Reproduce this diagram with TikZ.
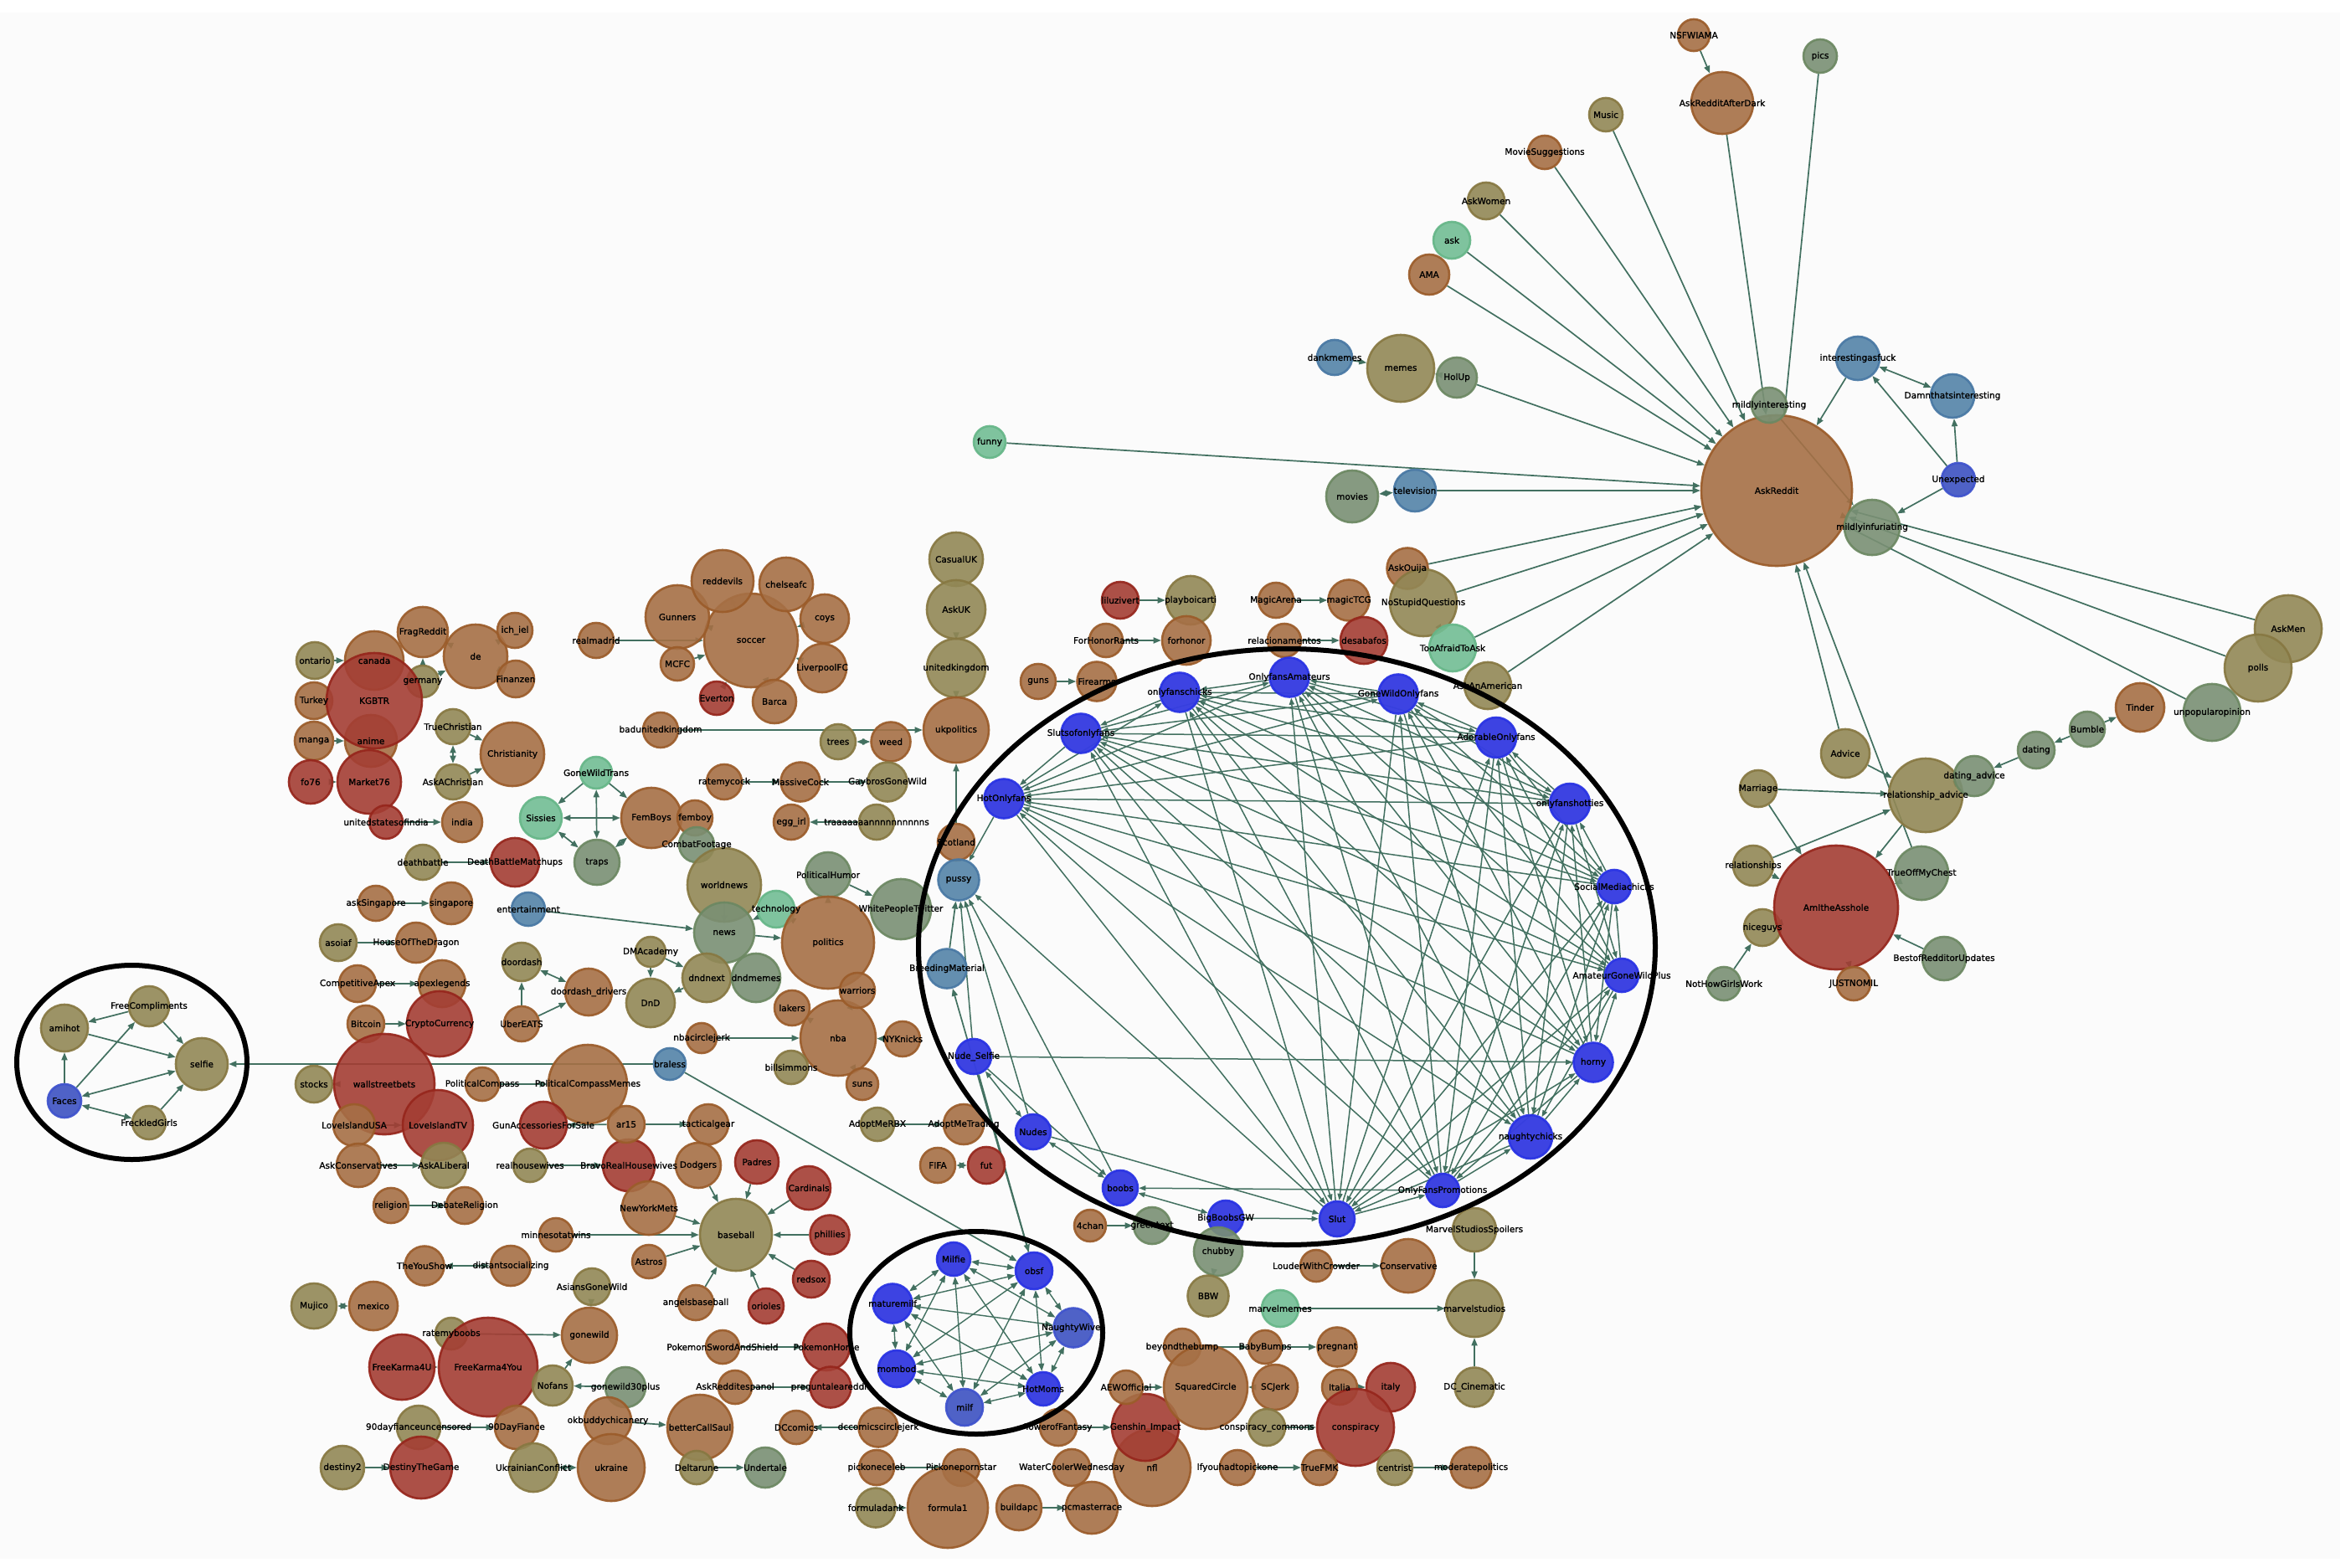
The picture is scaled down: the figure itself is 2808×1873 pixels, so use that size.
\documentclass[tikz,border=0pt]{standalone}
\usepackage{fontspec}
\usepackage{etoolbox}
\newfontfamily\lblfont[FakeBold=1.2]{DejaVu Sans}
\usetikzlibrary{arrows.meta}
\pgfdeclarelayer{bg}\pgfdeclarelayer{fg}\pgfsetlayers{bg,main,fg}
\definecolor{ecol}{RGB}{66,112,96}
\definecolor{bgc}{RGB}{251,251,251}
\definecolor{brF}{RGB}{166,112,70}\definecolor{brD}{RGB}{155,92,42}
\definecolor{olF}{RGB}{146,136,86}\definecolor{olD}{RGB}{135,120,66}
\definecolor{saF}{RGB}{122,144,116}\definecolor{saD}{RGB}{108,136,98}
\definecolor{teF}{RGB}{114,190,148}\definecolor{teD}{RGB}{102,182,136}
\definecolor{stF}{RGB}{84,132,168}\definecolor{stD}{RGB}{72,120,164}
\definecolor{blF}{RGB}{55,62,226}\definecolor{blD}{RGB}{40,50,228}
\definecolor{mbF}{RGB}{74,94,198}\definecolor{mbD}{RGB}{62,82,205}
\definecolor{reF}{RGB}{164,62,52}\definecolor{reD}{RGB}{150,38,28}
\tikzset{
 nd/.style={circle,inner sep=0pt,line width=2.6pt,fill opacity=0.9,draw opacity=0.92},
 cbr/.style={fill=brF,draw=brD},
 col/.style={fill=olF,draw=olD},
 csa/.style={fill=saF,draw=saD},
 cte/.style={fill=teF,draw=teD},
 cst/.style={fill=stF,draw=stD},
 cbl/.style={fill=blF,draw=blD,fill opacity=0.97},
 cmb/.style={fill=mbF,draw=mbD,fill opacity=0.97},
 cre/.style={fill=reF,draw=reD},
 lbl/.style={font=\lblfont\fontsize{10.5}{12}\selectfont,inner sep=0pt,text=black},
 edg/.style={draw=ecol,line width=1.7pt,-{Triangle[length=9pt,width=7pt]}},
 edgb/.style={draw=ecol,line width=1.7pt,{Triangle[length=9pt,width=7pt]}-{Triangle[length=9pt,width=7pt]}},
 edgr/.style={draw=ecol,line width=1.5pt,-{Triangle[length=8pt,width=6pt]}},
 ringline/.style={draw=black,line width=6pt}
}
\newcommand\lbllist{}
\newcommand\mkn[6]{\node[nd,#5,minimum size={#4*2pt}] (#1) at (#2,#3) {};%
\gappto\lbllist{\node[lbl] at (#1.center) {#6};}}
\begin{document}
\begin{tikzpicture}[x=1pt,y=-1pt]
\useasboundingbox (0,0) rectangle (2808,1873);
\begin{pgfonlayer}{bg}
\fill[white] (0,0) rectangle (2808,1873);
\fill[bgc] (0,15) rectangle (2795,1862);
\end{pgfonlayer}
% ---- top right hub
\mkn{nsfwiama}{2023}{42}{19}{cbr}{NSFWIAMA}
\mkn{arad}{2057}{123}{37}{cbr}{AskRedditAfterDark}
\mkn{music}{1918}{137}{20}{col}{Music}
\mkn{moviesug}{1845}{182}{20}{cbr}{MovieSuggestions}
\mkn{askwomen}{1775}{240}{22}{col}{AskWomen}
\mkn{ask}{1734}{287}{22}{cte}{ask}
\mkn{ama}{1707}{328}{24}{cbr}{AMA}
\mkn{dank}{1594}{427}{21}{cst}{dankmemes}
\mkn{memes}{1673}{440}{40}{col}{memes}
\mkn{holup}{1740}{451}{24}{csa}{HolUp}
\mkn{movies}{1615}{593}{31}{csa}{movies}
\mkn{tv}{1690}{586}{25}{cst}{television}
\mkn{funny}{1182}{528}{19}{cte}{funny}
\mkn{pics}{2174}{67}{20}{csa}{pics}
\mkn{askreddit}{2122}{586}{90}{cbr}{AskReddit}
\mkn{mint}{2113}{484}{21}{csa}{mildlyinteresting}
\mkn{iaf}{2219}{428}{26}{cst}{interestingasfuck}
\mkn{dti}{2332}{473}{26}{cst}{Damnthatsinteresting}
\mkn{unexp}{2339}{573}{20}{cmb}{Unexpected}
\mkn{minf}{2236}{630}{33}{csa}{mildlyinfuriating}
\mkn{askouija}{1681}{679}{24.5}{cbr}{AskOuija}
\mkn{nsq}{1700}{720}{40}{col}{NoStupidQuestions}
\mkn{tata}{1735}{774}{28}{cte}{TooAfraidToAsk}
\mkn{askam}{1777}{819}{28}{col}{AskAnAmerican}
\mkn{magicarena}{1524}{717}{21}{cbr}{MagicArena}
\mkn{magictcg}{1611}{717}{24.5}{cbr}{magicTCG}
\mkn{relac}{1534}{765}{20}{cbr}{relacionamentos}
\mkn{desab}{1629}{765}{28}{cre}{desabafos}
\mkn{liluz}{1338}{717}{22}{cre}{liluzivert}
\mkn{carti}{1422}{717}{29}{col}{playboicarti}
\mkn{fhr}{1321}{765}{20}{cbr}{ForHonorRants}
\mkn{forhonor}{1417}{765}{29}{cbr}{forhonor}
\mkn{guns}{1240}{814}{21}{cbr}{guns}
\mkn{firearms}{1310}{814}{23.5}{cbr}{Firearms}
% ---- right cluster
\mkn{askmen}{2733}{751}{40}{col}{AskMen}
\mkn{polls}{2697}{798}{40}{col}{polls}
\mkn{tinder}{2556}{845}{29}{cbr}{Tinder}
\mkn{unpop}{2642}{851}{34}{csa}{unpopularopinion}
\mkn{bumble}{2493}{871}{21}{csa}{Bumble}
\mkn{dating}{2432}{896}{22}{csa}{dating}
\mkn{advice}{2204}{900}{29}{col}{Advice}
\mkn{reladv}{2300}{950}{44}{col}{relationship\_advice}
\mkn{datadv}{2358}{927}{24}{csa}{dating\_advice}
\mkn{marriage}{2100}{942}{22}{col}{Marriage}
\mkn{relships}{2094}{1034}{24}{col}{relationships}
\mkn{niceguys}{2105}{1108}{22}{col}{niceguys}
\mkn{aita}{2193}{1084}{74}{cre}{AmItheAsshole}
\mkn{tomc}{2295}{1043}{32}{csa}{TrueOffMyChest}
\mkn{bru}{2322}{1145}{26}{csa}{BestofRedditorUpdates}
\mkn{justnomil}{2214}{1175}{20}{cbr}{JUSTNOMIL}
\mkn{nhgw}{2059}{1175}{20}{csa}{NotHowGirlsWork}
% ---- left top
\mkn{ontario}{376}{789}{22}{col}{ontario}
\mkn{canada}{447}{789}{35}{cbr}{canada}
\mkn{frag}{505}{755}{30}{cbr}{FragReddit}
\mkn{de}{568}{784}{38}{cbr}{de}
\mkn{ichiel}{615}{753}{21}{cbr}{ich\_iel}
\mkn{finanzen}{616}{811}{22}{cbr}{Finanzen}
\mkn{germany}{505}{814}{19}{col}{germany}
\mkn{turkey}{375}{837}{22}{cbr}{Turkey}
\mkn{manga}{375}{885}{23}{cbr}{manga}
\mkn{anime}{443}{885}{31}{cbr}{anime}
\mkn{kgbtr}{447}{837}{57}{cre}{KGBTR}
\mkn{truechr}{541}{868}{21}{col}{TrueChristian}
\mkn{christ}{612}{901}{38}{cbr}{Christianity}
\mkn{askchr}{541}{934}{21}{col}{AskAChristian}
\mkn{fo}{371}{934}{26}{cre}{fo76}
\mkn{market}{441}{934}{38}{cre}{Market76}
\mkn{usoi}{461}{982}{20}{cre}{unitedstatesofindia}
\mkn{india}{552}{982}{24}{cbr}{india}
\mkn{gwtrans}{712}{923}{19}{cte}{GoneWildTrans}
\mkn{sissies}{646}{977}{25}{cte}{Sissies}
\mkn{deathb}{505}{1030}{21}{col}{deathbattle}
\mkn{dbm}{615}{1030}{29}{cre}{DeathBattleMatchups}
\mkn{asksg}{449}{1079}{21}{cbr}{askSingapore}
\mkn{sg}{539}{1079}{25}{cbr}{singapore}
\mkn{ent}{631}{1086}{20}{cst}{entertainment}
\mkn{asoiaf}{404}{1126}{22}{col}{asoiaf}
\mkn{hotd}{497}{1126}{24}{cbr}{HouseOfTheDragon}
\mkn{compapex}{427}{1175}{22}{cbr}{CompetitiveApex}
\mkn{apex}{528}{1175}{28}{cbr}{apexlegends}
\mkn{doordash}{623}{1149}{23}{col}{doordash}
\mkn{ddd}{703}{1185}{28}{cbr}{doordash\_drivers}
\mkn{ubereats}{623}{1223}{21}{cbr}{UberEATS}
\mkn{bitcoin}{437}{1223}{22}{cbr}{Bitcoin}
\mkn{crypto}{525}{1223}{39}{cre}{CryptoCurrency}
% ---- left ellipse
\mkn{freecomp}{178}{1202}{24}{col}{FreeCompliments}
\mkn{amihot}{77}{1228}{28}{col}{amihot}
\mkn{faces}{77}{1315}{20}{cmb}{Faces}
\mkn{selfie}{241}{1271}{31}{col}{selfie}
\mkn{freckled}{178}{1341}{20}{col}{FreckledGirls}
% ---- left bottom
\mkn{stocks}{375}{1295}{22}{col}{stocks}
\mkn{wsb}{459}{1295}{60}{cre}{wallstreetbets}
\mkn{pcomp}{576}{1295}{20}{cbr}{PoliticalCompass}
\mkn{pcm}{702}{1295}{47}{cbr}{PoliticalCompassMemes}
\mkn{liusa}{423}{1344}{25}{cbr}{LoveIslandUSA}
\mkn{litv}{523}{1344}{42}{cre}{LoveIslandTV}
\mkn{gafs}{649}{1344}{28}{cre}{GunAccessoriesForSale}
\mkn{askcons}{428}{1392}{26}{cbr}{AskConservatives}
\mkn{asklib}{530}{1392}{27}{col}{AskALiberal}
\mkn{rhw}{633}{1392}{20}{col}{realhousewives}
\mkn{bravo}{751}{1392}{31}{cre}{BravoRealHousewives}
\mkn{religion}{467}{1440}{21}{cbr}{religion}
\mkn{debrel}{555}{1440}{22}{cbr}{DebateReligion}
\mkn{mntwins}{664}{1475}{20}{cbr}{minnesotatwins}
\mkn{youshow}{507}{1512}{23.5}{cbr}{TheYouShow}
\mkn{distsoc}{610}{1512}{24}{cbr}{distantsocializing}
\mkn{asiansgw}{707}{1537}{22}{col}{AsiansGoneWild}
\mkn{mujico}{375}{1560}{27}{col}{Mujico}
\mkn{mexico}{446}{1560}{29}{cbr}{mexico}
\mkn{ratemyboobs}{539}{1593}{19}{col}{ratemyboobs}
\mkn{fkfouru}{480}{1633}{39}{cre}{FreeKarma4U}
\mkn{fkfouryou}{583}{1633}{59}{cre}{FreeKarma4You}
\mkn{gonewild}{704}{1595}{33}{cbr}{gonewild}
\mkn{nofans}{660}{1655}{24}{col}{Nofans}
\mkn{gwthirty}{747}{1657}{24}{csa}{gonewild30plus}
\mkn{ndfu}{500}{1705}{26}{col}{90dayfianceuncensored}
\mkn{ndf}{617}{1705}{26}{cbr}{90DayFiance}
\mkn{okbc}{726}{1697}{28}{cbr}{okbuddychicanery}
\mkn{destiny}{409}{1753}{26}{col}{destiny2}
\mkn{dtg}{503}{1753}{37}{cre}{DestinyTheGame}
\mkn{ukrconf}{637}{1753}{29}{col}{UkrainianConflict}
\mkn{ukraine}{730}{1753}{40}{cbr}{ukraine}
% ---- middle
\mkn{realmadrid}{712}{765}{21}{cbr}{realmadrid}
\mkn{soccer}{897}{765}{56}{cbr}{soccer}
\mkn{gunners}{809}{737}{38}{cbr}{Gunners}
\mkn{reddevils}{863}{694}{37}{cbr}{reddevils}
\mkn{chelsea}{939}{698}{32}{cbr}{chelseafc}
\mkn{coys}{985}{739}{29}{cbr}{coys}
\mkn{mcfc}{809}{793}{20}{cbr}{MCFC}
\mkn{lfc}{982}{798}{29}{cbr}{LiverpoolFC}
\mkn{everton}{856}{834}{20}{cre}{Everton}
\mkn{barca}{925}{838}{26}{cbr}{Barca}
\mkn{buk}{789}{872}{21}{cbr}{badunitedkingdom}
\mkn{casualuk}{1142}{668}{32}{col}{CasualUK}
\mkn{askuk}{1142}{728}{35}{col}{AskUK}
\mkn{ukingdom}{1142}{798}{35}{col}{unitedkingdom}
\mkn{ukpol}{1142}{872}{39}{cbr}{ukpolitics}
\mkn{trees}{1001}{886}{21}{col}{trees}
\mkn{weed}{1064}{886}{23.5}{cbr}{weed}
\mkn{ratemycock}{865}{934}{21}{cbr}{ratemycock}
\mkn{massivecock}{956}{934}{23.5}{cbr}{MassiveCock}
\mkn{gaybros}{1060}{934}{23.5}{col}{GaybrosGoneWild}
\mkn{fembo}{778}{977}{36}{cbr}{FemBoys}
\mkn{femboy}{830}{977}{21}{cbr}{femboy}
\mkn{eggirl}{945}{982}{21}{cbr}{egg\_irl}
\mkn{traaa}{1047}{982}{21}{col}{traaaaaaannnnnnnnnns}
\mkn{traps}{713}{1030}{27}{csa}{traps}
\mkn{combat}{832}{1009}{21}{csa}{CombatFootage}
\mkn{worldnews}{865}{1057}{44}{col}{worldnews}
\mkn{polhumor}{989}{1045}{27}{csa}{PoliticalHumor}
\mkn{wpt}{1076}{1086}{36}{csa}{WhitePeopleTwitter}
\mkn{news}{865}{1114}{36}{csa}{news}
\mkn{tech}{927}{1086}{22}{cte}{technology}
\mkn{politics}{989}{1126}{55}{cbr}{politics}
\mkn{dmacad}{777}{1137}{18}{col}{DMAcademy}
\mkn{dndnext}{844}{1168}{29}{col}{dndnext}
\mkn{dndmemes}{903}{1168}{29}{csa}{dndmemes}
\mkn{dnd}{777}{1198}{29}{col}{DnD}
\mkn{nba}{1001}{1240}{45}{cbr}{nba}
\mkn{warriors}{1024}{1183}{21}{cbr}{warriors}
\mkn{lakers}{946}{1204}{21}{cbr}{lakers}
\mkn{nbacj}{838}{1240}{18}{cbr}{nbacirclejerk}
\mkn{knicks}{1078}{1241}{21}{cbr}{NYKnicks}
\mkn{scotland}{1142}{1006}{22}{cbr}{Scotland}
% ---- big ring
\mkn{NudeSelfie}{1163}{1262}{21}{cbl}{Nude\_Selfie}
\mkn{breeding}{1131}{1157}{23.5}{cst}{BreedingMaterial}
\mkn{pussy}{1145}{1051}{24.5}{cst}{pussy}
\mkn{hotof}{1199}{954}{23.5}{cbl,alias=c1}{HotOnlyfans}
\mkn{slutsof}{1291}{876}{23.5}{cbl,alias=c2}{Slutsofonlyfans}
\mkn{ofchicks}{1409}{827}{23.5}{cbl,alias=c3}{onlyfanschicks}
\mkn{ofam}{1540}{809}{23.5}{cbl,alias=c4}{OnlyfansAmateurs}
\mkn{gwof}{1670}{829}{23.5}{cbl,alias=c5}{GoneWildOnlyfans}
\mkn{adorof}{1787}{881}{24}{cbl,alias=c6}{AdorableOnlyfans}
\mkn{ofhot}{1875}{960}{24}{cbl,alias=c7}{onlyfanshotties}
\mkn{smchicks}{1928}{1059}{20}{cbl,alias=c8}{SocialMediachicks}
\mkn{agwp}{1937}{1165}{20}{cbl,alias=c9}{AmateurGoneWildPlus}
\mkn{horny}{1903}{1269}{23.5}{cbl,alias=c10}{horny}
\mkn{naughtyc}{1828}{1358}{26}{cbl,alias=c11}{naughtychicks}
\mkn{ofpromo}{1723}{1422}{20}{cbl,alias=c12}{OnlyFansPromotions}
\mkn{slut}{1597}{1456}{21}{cbl,alias=c13}{Slut}
\mkn{bbgw}{1464}{1455}{21}{cbl}{BigBoobsGW}
\mkn{boobs}{1338}{1419}{21}{cbl}{boobs}
\mkn{nudes}{1234}{1352}{21}{cbl}{Nudes}
% ---- small ring
\mkn{milfie}{1139}{1504}{20}{cbl,alias=s1}{Milfie}
\mkn{obsf}{1235}{1518}{22}{cbl,alias=s2}{obsf}
\mkn{nwives}{1282}{1586}{23.5}{cmb,alias=s3}{NaughtyWives}
\mkn{hotmoms}{1246}{1659}{20}{cbl,alias=s4}{HotMoms}
\mkn{milf}{1152}{1681}{22}{cmb,alias=s5}{milf}
\mkn{mombod}{1071}{1635}{22}{cbl,alias=s6}{mombod}
\mkn{maturemilf}{1066}{1557}{23.5}{cbl,alias=s7}{maturemilf}
% ---- bottom middle
\mkn{braless}{800}{1271}{19}{cst}{braless}
\mkn{billsim}{945}{1275}{20}{col}{billsimmons}
\mkn{suns}{1030}{1295}{19}{cbr}{suns}
\mkn{ar}{748}{1343}{22}{cbr}{ar15}
\mkn{tactical}{846}{1343}{24}{cbr}{tacticalgear}
\mkn{adoptrbx}{1048}{1343}{20}{col}{AdoptMeRBX}
\mkn{adopttr}{1151}{1343}{24}{cbr}{AdoptMeTrading}
\mkn{dodgers}{834}{1392}{27}{cbr}{Dodgers}
\mkn{padres}{904}{1388}{26}{cre}{Padres}
\mkn{cardinals}{966}{1419}{26}{cre}{Cardinals}
\mkn{mets}{775}{1443}{32}{cbr}{NewYorkMets}
\mkn{baseball}{879}{1475}{43}{col}{baseball}
\mkn{phillies}{991}{1475}{23.5}{cre}{phillies}
\mkn{astros}{775}{1507}{20}{cbr}{Astros}
\mkn{redsox}{969}{1528}{22}{cre}{redsox}
\mkn{angels}{831}{1556}{21}{cbr}{angelsbaseball}
\mkn{orioles}{915}{1560}{21}{cre}{orioles}
\mkn{fifa}{1120}{1392}{21}{cbr}{FIFA}
\mkn{fut}{1178}{1392}{22}{cre}{fut}
\mkn{fourchan}{1302}{1464}{19}{cbr}{4chan}
\mkn{greentext}{1376}{1464}{22}{csa}{greentext}
\mkn{pokess}{863}{1609}{20}{cbr}{PokemonSwordAndShield}
\mkn{pokehome}{987}{1609}{28}{cre}{PokemonHome}
\mkn{aresp}{878}{1657}{20}{cbr}{AskRedditespanol}
\mkn{pregunta}{992}{1657}{24.5}{cre}{preguntaleareddit}
\mkn{bcs}{836}{1705}{39}{cbr}{betterCallSaul}
\mkn{dccomics}{951}{1705}{20}{cbr}{DCcomics}
\mkn{dccj}{1049}{1705}{23.5}{cbr}{dccomicscirclejerk}
\mkn{deltarune}{832}{1753}{20}{col}{Deltarune}
\mkn{undertale}{914}{1753}{24}{csa}{Undertale}
\mkn{pickceleb}{1047}{1753}{21}{cbr}{pickoneceleb}
\mkn{pickps}{1148}{1753}{22}{cbr}{Pickonepornstar}
\mkn{fdank}{1046}{1801}{23.5}{col}{formuladank}
\mkn{fone}{1132}{1801}{48}{cbr}{formula1}
\mkn{buildapc}{1217}{1801}{27}{cbr}{buildapc}
\mkn{pcmr}{1304}{1801}{31}{cbr}{pcmasterrace}
\mkn{tof}{1264}{1705}{22}{cbr}{TowerofFantasy}
\mkn{nfl}{1376}{1753}{46}{cbr}{nfl}
\mkn{genshin}{1368}{1705}{40}{cre}{Genshin\_Impact}
\mkn{aew}{1345}{1657}{20}{cbr}{AEWOfficial}
\mkn{wcw}{1280}{1753}{22}{cbr}{WaterCoolerWednesday}
\mkn{beyond}{1412}{1609}{22}{cbr}{beyondthebump}
% ---- bottom right
\mkn{chubby}{1455}{1495}{29}{csa}{chubby}
\mkn{bbw}{1443}{1548}{24.5}{col}{BBW}
\mkn{lwc}{1572}{1512}{19}{cbr}{LouderWithCrowder}
\mkn{conservative}{1682}{1512}{32}{cbr}{Conservative}
\mkn{mss}{1761}{1469}{26}{col}{MarvelStudiosSpoilers}
\mkn{marvelmemes}{1529}{1563}{22}{cte}{marvelmemes}
\mkn{marvelstudios}{1761}{1563}{34}{col}{marvelstudios}
\mkn{babybumps}{1511}{1609}{20}{cbr}{BabyBumps}
\mkn{pregnant}{1597}{1609}{23.5}{cbr}{pregnant}
\mkn{sqc}{1440}{1657}{50}{cbr}{SquaredCircle}
\mkn{scjerk}{1523}{1657}{27}{cbr}{SCJerk}
\mkn{italia}{1600}{1657}{21}{cbr}{Italia}
\mkn{italy}{1661}{1657}{29}{cre}{italy}
\mkn{dccin}{1761}{1657}{23.5}{col}{DC\_Cinematic}
\mkn{conscom}{1513}{1705}{22}{col}{conspiracy\_commons}
\mkn{consp}{1619}{1705}{46}{cre}{conspiracy}
\mkn{ifyou}{1478}{1753}{21}{cbr}{Ifyouhadtopickone}
\mkn{truefmk}{1576}{1753}{21}{cbr}{TrueFMK}
\mkn{centrist}{1666}{1753}{21}{col}{centrist}
\mkn{modpol}{1757}{1753}{24.5}{cbr}{moderatepolitics}
% ================= edges
\begin{pgfonlayer}{bg}
\foreach \a/\b in {nsfwiama/arad,arad/askreddit,music/askreddit,moviesug/askreddit,askwomen/askreddit,ask/askreddit,ama/askreddit,holup/askreddit,dank/memes,holup/memes,tv/askreddit,funny/askreddit,pics/askreddit,iaf/askreddit,unexp/iaf,unexp/dti,unexp/minf,mint/askreddit,mint/minf,minf/askreddit,askmen/askreddit,polls/askreddit,unpop/askreddit,askouija/askreddit,nsq/askreddit,tata/askreddit,tata/nsq,askam/askreddit,advice/askreddit,tomc/askreddit,
advice/reladv,marriage/reladv,marriage/aita,relships/reladv,relships/aita,niceguys/aita,reladv/aita,datadv/reladv,dating/datadv,bumble/dating,bumble/tinder,tomc/aita,bru/aita,justnomil/aita,nhgw/niceguys,
ontario/canada,turkey/kgbtr,manga/anime,fo/market,usoi/india,germany/frag,germany/de,frag/de,ichiel/de,finanzen/de,truechr/christ,askchr/christ,gwtrans/sissies,gwtrans/fembo,deathb/dbm,asksg/sg,asoiaf/hotd,compapex/apex,bitcoin/crypto,ubereats/doordash,ubereats/ddd,ent/news,
realmadrid/soccer,gunners/soccer,reddevils/soccer,chelsea/soccer,coys/soccer,mcfc/soccer,lfc/soccer,everton/soccer,barca/soccer,buk/ukpol,ukingdom/askuk,ukpol/ukingdom,scotland/ukpol,liluz/carti,fhr/forhonor,guns/firearms,magicarena/magictcg,relac/desab,ratemycock/massivecock,massivecock/gaybros,traaa/eggirl,combat/worldnews,news/worldnews,tech/news,tech/politics,news/politics,polhumor/politics,polhumor/wpt,dmacad/dndnext,dmacad/dnd,dndnext/dnd,nbacj/nba,lakers/nba,warriors/nba,knicks/nba,suns/nba,
braless/selfie,braless/obsf,freecomp/amihot,freecomp/selfie,faces/amihot,faces/freecomp,amihot/selfie,freckled/selfie,stocks/wsb,pcomp/pcm,liusa/litv,ar/gafs,ar/tactical,askcons/asklib,rhw/bravo,religion/debrel,mntwins/baseball,padres/baseball,cardinals/baseball,mets/baseball,phillies/baseball,astros/baseball,redsox/baseball,angels/baseball,orioles/baseball,dodgers/baseball,ratemyboobs/gonewild,nofans/gonewild,gwthirty/nofans,asiansgw/gonewild,fkfouru/fkfouryou,ndfu/ndf,destiny/dtg,okbc/bcs,
pokess/pokehome,aresp/pregunta,dccj/dccomics,deltarune/undertale,pickceleb/pickps,fdank/fone,buildapc/pcmr,adoptrbx/adopttr,fourchan/greentext,tof/genshin,aew/sqc,beyond/babybumps,babybumps/pregnant,scjerk/sqc,italia/italy,conscom/consp,ifyou/truefmk,centrist/modpol,lwc/conservative,marvelmemes/marvelstudios,mss/marvelstudios,dccin/marvelstudios,bbw/chubby,bbgw/chubby,NudeSelfie/obsf,obsf/breeding,breeding/pussy}
  {\draw[edg] (\a) -- (\b);}
\foreach \a/\b in {movies/tv,iaf/dti,truechr/askchr,gwtrans/traps,sissies/fembo,sissies/traps,traps/fembo,doordash/ddd,trees/weed,casualuk/askuk,faces/selfie,faces/freckled,youshow/distsoc,mujico/mexico,ukrconf/ukraine,fifa/fut}
  {\draw[edgb] (\a) -- (\b);}
% core of the big ring
\foreach \a in {1,...,12}{\pgfmathtruncatemacro{\s}{\a+1}%
  \foreach \b in {\s,...,13}{\pgfmathtruncatemacro{\p}{mod(\a+\b,2)}%
    \ifnum\p=0 \draw[edgr] (c\a) -- (c\b);\else \draw[edgr] (c\b) -- (c\a);\fi}}
% periphery of the big ring
\foreach \a/\b in {NudeSelfie/horny,NudeSelfie/boobs,NudeSelfie/pussy,nudes/slut,nudes/pussy,boobs/pussy,slut/pussy,ofpromo/boobs,bbgw/slut,hotof/pussy}
  {\draw[edgr] (\a) -- (\b);}
\foreach \a/\b in {NudeSelfie/nudes,nudes/boobs,boobs/bbgw}
  {\draw[edgr,{Triangle[length=8pt,width=6pt]}-{Triangle[length=8pt,width=6pt]}] (\a) -- (\b);}
% small ring
\foreach \a in {1,...,6}{\pgfmathtruncatemacro{\s}{\a+1}%
  \foreach \b in {\s,...,7}{\draw[edgb,line width=1.4pt] (s\a) -- (s\b);}}
\end{pgfonlayer}
% ================= highlight ellipses and labels
\begin{pgfonlayer}{fg}
\draw[ringline] (157.5,1269) ellipse [x radius=137.5pt, y radius=116pt];
\draw[ringline] (1537,1131) ellipse [x radius=440pt, y radius=356pt];
\draw[ringline] (1166,1592) ellipse [x radius=151pt, y radius=121pt];
\lbllist
\end{pgfonlayer}
\end{tikzpicture}
\end{document}
